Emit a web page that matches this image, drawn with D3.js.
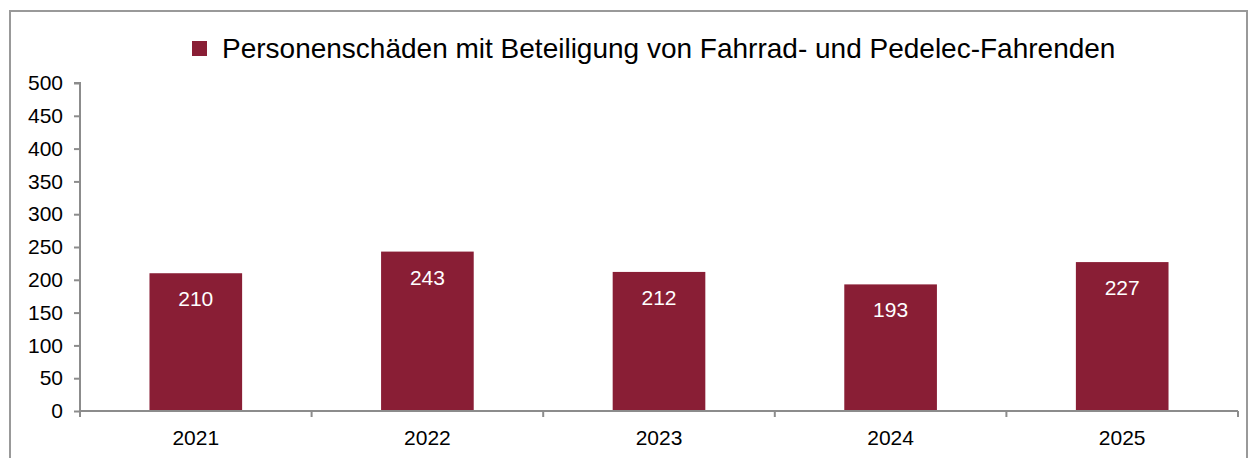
<!DOCTYPE html>
<html>
<head>
<meta charset="utf-8">
<script src="https://cdn.jsdelivr.net/npm/d3@7"></script>
<style>
  body { margin: 0; background: #fff; }
  svg { display: block; font-family: "Liberation Sans", Arial, sans-serif; }
</style>
</head>
<body>
<div id="chart"></div>
<script>
// data
var years = ["2021", "2022", "2023", "2024", "2025"];
var values = [210, 243, 212, 193, 227];
var yTicks = [0, 50, 100, 150, 200, 250, 300, 350, 400, 450, 500];
var seriesName = "Personenschäden mit Beteiligung von Fahrrad- und Pedelec-Fahrenden";

var W = 1254, H = 458;
var margin = {top: 83, right: 16, bottom: 47, left: 80},
    width = W - margin.left - margin.right,
    height = H - margin.top - margin.bottom;

var barColor = "#891e35", axisColor = "#8c8c8c";

var svg = d3.select("#chart").append("svg")
    .attr("width", W)
    .attr("height", H);

// outer frame (bottom edge lies outside the picture)
svg.append("path")
    .attr("d", "M10,470 V11 H1247 V470")
    .attr("fill", "none")
    .attr("stroke", "#999")
    .attr("stroke-width", 2);

var g = svg.append("g")
    .attr("transform", "translate(" + margin.left + "," + margin.top + ")");

var x = d3.scaleBand()
    .domain(years)
    .range([0, width])
    .paddingInner(0.6)
    .paddingOuter(0.3);

var y = d3.scaleLinear()
    .domain([0, 500])
    .range([height, 0]);

// bars
g.selectAll(".bar")
    .data(values)
  .enter().append("rect")
    .attr("class", "bar")
    .attr("x", function(d, i) { return x(years[i]); })
    .attr("width", x.bandwidth())
    .attr("y", function(d) { return y(d); })
    .attr("height", function(d) { return height - y(d); })
    .attr("fill", barColor);

// value labels inside the bar top
g.selectAll(".lbl")
    .data(values)
  .enter().append("text")
    .attr("class", "lbl")
    .attr("x", function(d, i) { return x(years[i]) + x.bandwidth() / 2; })
    .attr("y", function(d) { return y(d) + 33; })
    .attr("text-anchor", "middle")
    .attr("fill", "#fff")
    .style("font-size", "21px")
    .text(function(d) { return d; });

// y axis
var yAxis = g.append("g")
    .call(d3.axisLeft(y).tickValues(yTicks).tickSize(6).tickPadding(11));
yAxis.select(".domain").attr("d", "M-6," + y(500) + "H0V" + height);

// x axis with ticks at the category boundaries
var bounds = d3.range(years.length + 1).map(function(i) { return i * width / years.length; });
var xAxis = g.append("g")
    .attr("transform", "translate(0," + height + ")");
xAxis.append("path")
    .attr("class", "domain")
    .attr("d", "M0,0H" + width);
xAxis.selectAll(".btick")
    .data(bounds)
  .enter().append("line")
    .attr("x1", function(d) { return d; })
    .attr("x2", function(d) { return d; })
    .attr("y1", 0)
    .attr("y2", 6);
xAxis.selectAll(".xlbl")
    .data(years)
  .enter().append("text")
    .attr("x", function(d) { return x(d) + x.bandwidth() / 2; })
    .attr("y", 34)
    .attr("text-anchor", "middle")
    .attr("fill", "#000")
    .style("font-size", "21px")
    .text(function(d) { return d; });

svg.selectAll(".domain, .tick line, line")
    .attr("stroke", axisColor)
    .attr("stroke-width", 2)
    .attr("fill", "none");
yAxis.selectAll(".tick text")
    .attr("fill", "#000")
    .style("font-size", "21px")
    .style("font-family", "Liberation Sans, Arial, sans-serif");

// legend
var legend = svg.append("g").attr("transform", "translate(192,41)");
legend.append("rect")
    .attr("width", 15)
    .attr("height", 15)
    .attr("fill", barColor);
legend.append("text")
    .attr("x", 30)
    .attr("y", 17)
    .attr("fill", "#000")
    .style("font-size", "28px")
    .text(seriesName);
</script>
</body>
</html>
